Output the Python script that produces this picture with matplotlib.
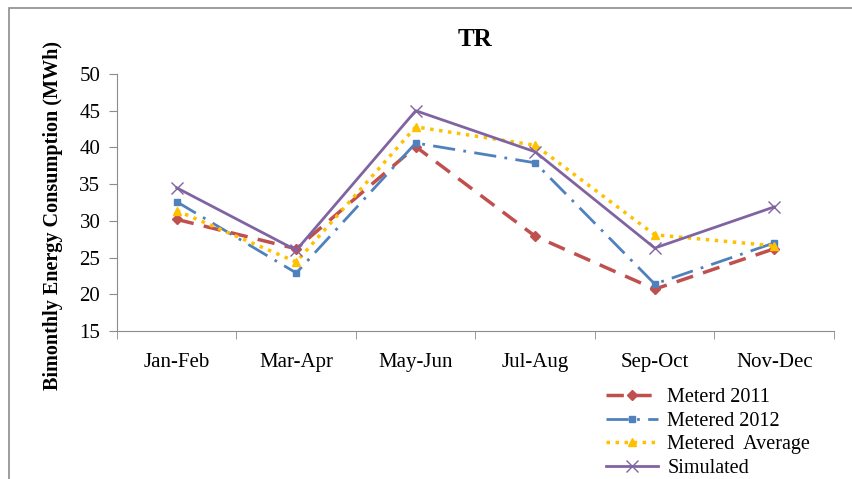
import matplotlib.pyplot as plt
import matplotlib.patches as mpatches
import numpy as np

periods = ["Jan-Feb", "Mar-Apr", "May-Jun", "Jul-Aug", "Sep-Oct", "Nov-Dec"]
metered_2011 = [30.2, 26.2, 40.1, 27.9, 20.7, 26.2]
metered_2012 = [32.6, 22.9, 40.6, 37.9, 21.4, 27.0]
metered_avg = [31.4, 24.4, 42.8, 40.3, 28.1, 26.6]
simulated = [34.5, 26.0, 45.0, 39.4, 26.3, 31.9]

plt.rcParams["font.family"] = ["Liberation Serif", "DejaVu Serif"]

fig = plt.figure(figsize=(8.53, 4.79), dpi=100)
ax = fig.add_axes([117 / 853, 1 - 331 / 479, 717 / 853, 257 / 479])

# outer chart frame
fig.patches.append(mpatches.Rectangle((9 / 853, -0.05), 1.0, 1 - 8 / 479 + 0.05,
                                      transform=fig.transFigure, fill=False,
                                      edgecolor="#8c8c8c", linewidth=1.2))

x = np.arange(len(periods))
ax.plot(x, metered_2011, color="#c0504d", linestyle=(0, (5, 3)), linewidth=2.5,
        marker="D", markersize=5, label="Meterd 2011")
ax.plot(x, metered_2012, color="#4f81bd", linestyle=(0, (8, 3, 1, 3)), linewidth=2,
        marker="s", markersize=5, label="Metered 2012")
ax.plot(x, metered_avg, color="#ffc000", linestyle=(0, (1, 1.6)), linewidth=2.5,
        marker="^", markersize=6, label="Metered  Average")
ax.plot(x, simulated, color="#8064a2", linestyle="-", linewidth=2,
        marker="x", markersize=8, markeredgewidth=1.0, label="Simulated")

ax.set_xlim(-0.5, len(periods) - 0.5)
ax.set_ylim(15, 50)
ax.set_yticks(range(15, 51, 5))
ax.set_xticks(x)
ax.set_xticklabels(periods)
ax.set_xticks(np.arange(-0.5, len(periods), 1), minor=True)
ax.tick_params(axis="x", which="major", length=0, pad=16, labelsize=15)
ax.tick_params(axis="x", which="minor", length=6, color="#8c8c8c", direction="out")
ax.tick_params(axis="y", length=6, color="#8c8c8c", labelsize=15, pad=6)

for side in ["top", "right"]:
    ax.spines[side].set_visible(False)
for side in ["left", "bottom"]:
    ax.spines[side].set_color("#8c8c8c")

ax.set_title("TR", fontsize=18, fontweight="bold", pad=20)
ax.set_ylabel("Bimonthly Energy Consumption (MWh)", fontsize=14.5, fontweight="bold")
ax.yaxis.set_label_coords(-0.076, 0.45)

ax.legend(loc="upper left", bbox_to_anchor=(598 / 853, 1 - 380 / 479),
          bbox_transform=fig.transFigure, frameon=False, fontsize=14.5,
          handlelength=2.6, labelspacing=0.22, borderaxespad=0, handletextpad=0.45)

fig.savefig("out.png", dpi=100)
